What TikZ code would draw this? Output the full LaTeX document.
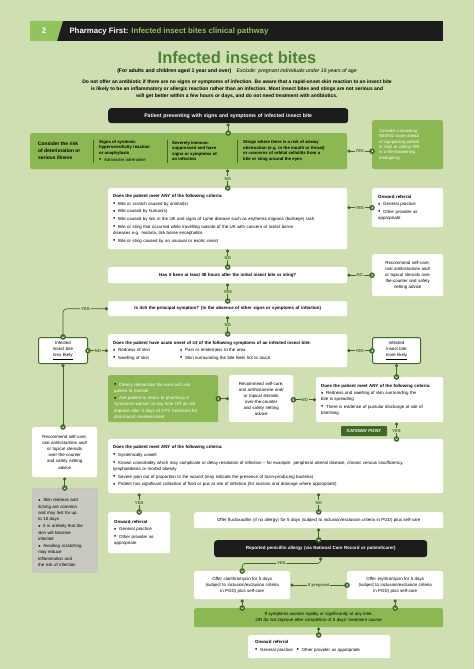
\documentclass[tikz,border=0pt]{standalone}
\usepackage{fontspec}
\setmainfont{Liberation Sans}
\usetikzlibrary{arrows.meta}

\definecolor{pagebg}{RGB}{207,223,178}
\definecolor{midgreen}{RGB}{140,184,84}
\definecolor{darkgreen}{RGB}{62,104,38}
\definecolor{titlegreen}{RGB}{80,130,52}
\definecolor{lightgreen}{RGB}{145,196,92}
\definecolor{greybox}{RGB}{201,201,194}
\definecolor{nearblack}{RGB}{28,28,28}

\newcommand{\fs}{\fontsize{4.4}{6.1}\selectfont}
\newcommand{\dotmark}{\hbox to 5pt{\raisebox{-0.3pt}{\textcolor{black}{\scalebox{1.45}{\textbullet}}}\hss}}
\newcommand{\bpt}[1]{\par\vspace{1.6pt}\hangindent=5pt\hangafter=1\noindent\dotmark#1\par}

\tikzset{
  box/.style={anchor=north west, fill=white, rounded corners=2pt, inner xsep=5pt, inner ysep=2pt, font=\fs, align=left},
  cbox/.style={box, align=center, inner xsep=3pt},
  greenbox/.style={box, fill=midgreen},
  blackbox/.style={box, fill=nearblack, text=white, align=center, rounded corners=3pt, font=\fontsize{5.2}{6}\selectfont\bfseries},
  likelybox/.style={cbox, draw=darkgreen, line width=1pt},
  rktext/.style={anchor=west, align=left, inner sep=0pt, font=\fontsize{4.3}{5.6}\selectfont\bfseries},
  divline/.style={darkgreen, line width=0.4pt},
  conn/.style={draw=darkgreen, line width=0.7pt, {Circle[length=3.2pt]}-},
  lbl/.style={fill=pagebg, text=darkgreen, font=\fontsize{4.2}{5}\selectfont\bfseries, inner sep=0.8pt},
  chev/.pic={\fill[darkgreen] (0,0) circle (2.8pt);
    \draw[white, line width=0.55pt, sharp corners, -] (-1.2,-0.5) -- (0,0.7) -- (1.2,-0.5);}
}

\begin{document}
\begin{tikzpicture}[x=1pt, y=-1pt]
\useasboundingbox (0,0) rectangle (474,669);
\fill[pagebg] (0,0) rectangle (474,669);

\fill[nearblack] (30,21) rectangle (443,41);
\fill[lightgreen] (30,21) -- (63,21) -- (57,41) -- (30,41) -- cycle;
\node[font=\fontsize{8}{9}\selectfont\bfseries, text=white] (num) at (44,31) {2};
\node[anchor=west, font=\fontsize{7.8}{9}\selectfont\bfseries, text=white] (hdr) at (66,31)
  {Pharmacy First: \textcolor{lightgreen}{Infected insect bites clinical pathway}};

\node[font=\fontsize{16.5}{18}\selectfont\bfseries, text=titlegreen] (title) at (237,58) {Infected insect bites};
\node[font=\fontsize{5.2}{6}\selectfont] (subttl) at (237,71)
  {\textbf{(For adults and children aged 1 year and over)}\quad\textit{Exclude: pregnant individuals under 16 years of age}};
\node[font=\fontsize{5}{7}\selectfont\bfseries, align=center] (intro) at (237,89)
  {Do not offer an antibiotic if there are no signs or symptoms of infection. Be aware that a rapid-onset skin reaction to an insect bite\\
   is likely to be an inflammatory or allergic reaction rather than an infection. Most insect bites and stings are not serious and\\
   will get better within a few hours or days, and do not need treatment with antibiotics.};

\node[blackbox, text width=230, minimum height=15] (start) at (108,108)
  {Patient presenting with signs and symptoms of infected insect bite};

\node[greenbox, minimum width=317, minimum height=36] (risk) at (30,133) {};
\node[rktext, font=\fontsize{4.9}{6.8}\selectfont\bfseries] (rk1) at (38,151) {Consider the risk\\of deterioration or\\serious illness};
\node[rktext] (rk2) at (99,151) {Signs of systemic\\hypersensitivity reaction\\or anaphylaxis\\[1.5pt]{\mdseries\dotmark Administer adrenaline}};
\node[rktext] (rk3) at (172,151) {Severely immuno-\\suppressed and have\\signs or symptoms of\\an infection};
\node[rktext] (rk4) at (243,151) {Stings where there is a risk of airway\\obstruction (e.g. in the mouth or throat)\\or concerns of orbital cellulitis from a\\bite or sting around the eyes};
\foreach \dx in {93,167,237}
  \draw[divline] (\dx,140) -- (\dx,163);

\node[greenbox, text=white, inner xsep=7pt, text width=57, minimum height=49, font=\fontsize{4.2}{5.3}\selectfont] (news) at (372,120)
  {Consider calculating\\NEWS2 score ahead\\of signposting patient\\to A\&E or calling 999\\in a life-threatening\\emergency};

\node[box, text width=229, minimum height=61] (crit1) at (108,188)
  {{\bfseries Does the patient meet ANY of the following criteria:}
   \bpt{Bite or scratch caused by animal(s)}
   \bpt{Bite caused by human(s)}
   \bpt{Bite caused by tick in the UK and signs of Lyme disease such as erythema migrans (bullseye) rash}
   \bpt{Bite or sting that occurred while travelling outside of the UK with concern of insect borne\\diseases e.g. malaria, tick borne encephalitis}
   \bpt{Bite or sting caused by an unusual or exotic insect}};

\node[box, inner xsep=6pt, text width=59, minimum height=39] (onw1) at (372,188)
  {{\bfseries Onward referral}
   \bpt{General practice}
   \bpt{Other provider as\\appropriate}};

\node[cbox, font=\fs\bfseries, text width=233, minimum height=16] (hrs) at (108,267)
  {Has it been at least 48 hours after the initial insect bite or sting?};

\node[cbox, text width=65, minimum height=42] (self1) at (372,254)
  {Recommend self-care,\\oral antihistamine and/\\or topical steroids over\\the-counter and safety\\netting advice};

\node[cbox, font=\fs\bfseries, text width=233, minimum height=15] (itch) at (108,301)
  {Is itch the principal symptom? (In the absence of other signs or symptoms of infection)};

\node[likelybox, text width=43, minimum height=26] (less) at (38,337)
  {Infected\\insect bite\\\underline{less likely}};

\node[box, text width=229, minimum height=33] (acute) at (108,334)
  {{\bfseries Does the patient have acute onset of ≥3 of the following symptoms of an infected insect bite:}\par\vspace{1.6pt}
   \noindent\hbox to 67pt{\dotmark Redness of skin\hss}\dotmark Pain or tenderness to the area\par\vspace{1.6pt}
   \noindent\hbox to 67pt{\dotmark Swelling of skin\hss}\dotmark Skin surrounding the bite feels hot to touch};

\node[likelybox, text width=42, minimum height=26] (more) at (372,337)
  {Infected\\insect bite\\\underline{more likely}};

\node[greenbox, text=white, inner xsep=6pt, text width=98, minimum height=47] (monitor) at (108,375)
  {\bpt{Clearly demarcate the area and ask\\patient to monitor}
   \bpt{Ask patient to return to pharmacy if\\symptoms worsen at any time OR do not\\improve after 3 days of OTC treatment for\\pharmacist reassessment}};

\node[cbox, text width=58, minimum height=47] (self2) at (229,375)
  {Recommend self-care,\\oral antihistamine and/\\or topical steroids\\over-the-counter\\and safety netting\\advice};

\node[box, text width=117, minimum height=45] (crit2) at (316,377)
  {{\bfseries Does the patient meet ANY of the following criteria:}
   \bpt{Redness and swelling of skin surrounding the\\bite is spreading}
   \bpt{There is evidence of pustular discharge at site of\\bite/sting}};

\node[cbox, text width=59, minimum height=50] (self3) at (32,427)
  {Recommend self-care,\\oral antihistamine and/\\or topical steroids\\over-the-counter\\and safety netting\\advice};

\node[fill=darkgreen, text=white, rounded corners=1pt, minimum width=46, minimum height=10, inner sep=1pt,
      font=\fontsize{4.2}{5}\selectfont\bfseries] (gate) at (364,431) {GATEWAY POINT};

\node[box, text width=325, minimum height=54] (crit3) at (108,439)
  {{\bfseries Does the patient meet ANY of the following criteria:}
   \bpt{Systemically unwell}
   \bpt{Known comorbidity which may complicate or delay resolution of infection – for example: peripheral arterial disease, chronic venous insufficiency,\\lymphoedema or morbid obesity}
   \bpt{Severe pain out of proportion to the wound (may indicate the presence of toxin-producing bacteria)}
   \bpt{Patient has significant collection of fluid or pus at site of infection (for incision and drainage where appropriate)}};

\node[box, fill=greybox, draw=black!25, line width=0.5pt, inner xsep=6pt, text width=53, minimum height=84] (grey) at (32,488)
  {\bpt{Skin redness and\\itching are common\\and may last for up\\to 10 days}
   \bpt{It is unlikely that the\\skin will become\\infected}
   \bpt{Avoiding scratching\\may reduce\\inflammation and\\the risk of infection}};

\node[box, inner xsep=6pt, text width=50, minimum height=41] (onw2) at (108,512)
  {{\bfseries Onward referral}
   \bpt{General practice}
   \bpt{Other provider as\\appropriate}};

\node[cbox, text width=243, minimum height=16] (fluc) at (194,512)
  {Offer flucloxacillin (if no allergy) for 5 days (subject to inclusion/exclusion criteria in PGD) plus self-care};

\node[blackbox, font=\fontsize{4.5}{5.5}\selectfont\bfseries, text width=203, minimum height=17] (pen) at (214,540)
  {Reported penicillin allergy (via National Care Record or patient/carer)};

\node[cbox, text width=90, minimum height=28] (clar) at (194,571)
  {Offer clarithromycin for 5 days\\(subject to inclusion/exclusion criteria\\in PGD) plus self-care};

\node[cbox, text width=90, minimum height=28] (ery) at (347,571)
  {Offer erythromycin for 5 days\\(subject to inclusion/exclusion criteria\\in PGD) plus self-care};

\node[greenbox, align=center, text width=239, minimum height=19] (worse) at (194,608)
  {If symptoms worsen rapidly or significantly at any time,\\OR do not improve after completion of 5 days’ treatment course};

\node[box, inner xsep=7pt, text width=128, minimum height=23] (onw3) at (248,635)
  {{\bfseries Onward referral}\par\vspace{1.6pt}
   \noindent\dotmark General practice\hspace{4pt}\dotmark Other provider as appropriate};

\draw[conn] (start.south) -- (start.south |- risk.north) pic{chev};
\draw[conn] (risk.east) -- node[lbl]{YES} (risk.east -| news.west) pic[rotate=90]{chev};
\draw[conn] (crit1.north |- risk.south) -- node[lbl]{NO} (crit1.north) pic{chev};
\draw[conn] (crit1.east |- onw1.west) -- node[lbl]{YES} (onw1.west) pic[rotate=90]{chev};
\draw[conn] (crit1.south) -- node[lbl]{NO} (hrs.north) pic{chev};
\draw[conn] (hrs.east) -- node[lbl]{NO} (hrs.east -| self1.west) pic[rotate=90]{chev};
\draw[conn] (hrs.south) -- node[lbl]{YES} (itch.north) pic{chev};
\draw[conn, rounded corners=4pt] (itch.west) -| node[lbl, pos=0.25]{YES} (less.north) pic{chev};
\draw[conn] (itch.south) -- node[lbl]{NO} (acute.north) pic{chev};
\draw[conn] (acute.west) -- node[lbl]{NO} (acute.west -| less.east) pic[rotate=-90]{chev};
\draw[conn] (acute.east) -- node[lbl]{YES} (acute.east -| more.west) pic[rotate=90]{chev};
\draw[conn] (more.south) -- (more.south |- crit2.north) pic{chev};
\draw[conn] (crit2.west) -- node[lbl]{NO} (crit2.west -| self2.east) pic[rotate=-90]{chev};
\draw[conn] (self2.west) -- (self2.west -| monitor.east) pic[rotate=-90]{chev};
\draw[conn] (less.south) -- (less.south |- self3.north) pic{chev};
\draw[conn] (self3.south) -- (self3.south |- grey.north) pic{chev};
\draw[conn] (more.south |- crit2.south) -- node[lbl]{YES} (more.south |- crit3.north) pic{chev};
\draw[conn] (onw2.north |- crit3.south) -- node[lbl]{YES} (onw2.north) pic{chev};
\draw[conn] (fluc.north |- crit3.south) -- node[lbl]{NO} (fluc.north) pic{chev};
\draw[conn] (fluc.south) -- (fluc.south |- pen.north) pic{chev};
\draw[conn, rounded corners=3pt] (pen.south) -- ++(0,6) -| node[lbl, pos=0.25]{YES} (clar.north) pic{chev};
\draw[conn] (clar.east) -- node[lbl]{If pregnant} (clar.east -| ery.west) pic[rotate=90]{chev};
\draw[conn] (clar.south) -- (clar.south |- worse.north) pic{chev};
\draw[conn] (ery.south) -- (ery.south |- worse.north) pic{chev};
\draw[conn] (worse.south) -- (worse.south |- onw3.north) pic{chev};
\end{tikzpicture}
\end{document}
